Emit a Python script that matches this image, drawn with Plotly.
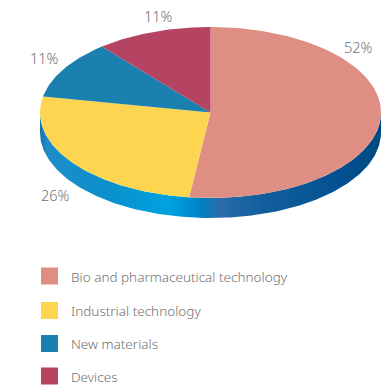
import numpy as np
import plotly.graph_objects as go

# Share of projects by technology field
categories = ["Bio and pharmaceutical technology", "Industrial technology",
              "New materials", "Devices"]
shares = [52, 26, 11, 11]
share_labels = ["52%", "26%", "11%", "11%"]
colors = ["#df8e84", "#fdd550", "#1b7fb0", "#b44462"]

W, H = 382, 388
cx, cy, rx, ry, depth = 210.5, 112.5, 170.5, 85.5, 20

fig = go.Figure()


def ellipse_pt(theta_deg, dy=0.0):
    t = np.radians(theta_deg)
    return cx + rx * np.sin(t), cy - ry * np.cos(t) + dy


# Side wall of the tilted disc (visible front half)
th = np.linspace(90, 270, 200)
ux, uy = ellipse_pt(th)
lx, ly = ellipse_pt(th[::-1], depth)
fig.add_trace(go.Scatter(
    x=np.concatenate([ux, lx, ux[:1]]), y=np.concatenate([uy, ly, uy[:1]]),
    mode="lines", line=dict(width=0), fill="toself",
    fillgradient=dict(type="horizontal", colorscale=[
        [0.00, "#1a6fa8"], [0.02, "#1e8cc8"], [0.20, "#0a90cc"],
        [0.38, "#00a2e0"], [0.47, "#0083c4"], [0.53, "#2a6aa8"],
        [0.65, "#135f9e"], [0.88, "#035190"], [1.00, "#004a80"]]),
    hoverinfo="skip", showlegend=False))

# Top faces of the slices, clockwise from 12 o'clock
total = sum(shares)
start = 0.0
for name, val, col in zip(categories, shares, colors):
    sweep = 360.0 * val / total
    a = np.linspace(start, start + sweep, max(int(sweep), 2) + 1)
    px, py = ellipse_pt(a)
    fig.add_trace(go.Scatter(
        x=np.concatenate([[cx], px, [cx]]), y=np.concatenate([[cy], py, [cy]]),
        mode="lines", line=dict(width=0), fill="toself", fillcolor=col,
        name=name, hoverinfo="name", showlegend=False))
    start += sweep

base_font = dict(color="#707070", family="Noto Sans, Open Sans, sans-serif",
                 weight=300)

# Percentage labels outside the rim
label_pos = [(358, 47), (55, 195), (44, 58), (158, 16)]
for txt, (lx_, ly_) in zip(share_labels, label_pos):
    fig.add_annotation(x=lx_, y=ly_, text=txt, showarrow=False,
                       font=dict(size=14.5, **base_font),
                       xanchor="center", yanchor="middle")

# Legend block
legend_y = [276, 310.5, 343.5, 376]
fig.add_trace(go.Scatter(
    x=[49.5] * len(categories), y=legend_y, mode="markers",
    marker=dict(symbol="square", size=17, color=colors, line=dict(width=0)),
    hoverinfo="skip", showlegend=False))
for name, yy in zip(categories, legend_y):
    fig.add_annotation(x=69, y=yy + 0.5, text=name, showarrow=False,
                       font=dict(size=13.5, **base_font),
                       xanchor="left", yanchor="middle")

fig.update_layout(
    width=W, height=H, margin=dict(l=0, r=0, t=0, b=0),
    paper_bgcolor="white", plot_bgcolor="white",
    xaxis=dict(range=[0, W], visible=False, fixedrange=True),
    yaxis=dict(range=[H, 0], visible=False, fixedrange=True),
)

fig.write_html("out.html")
